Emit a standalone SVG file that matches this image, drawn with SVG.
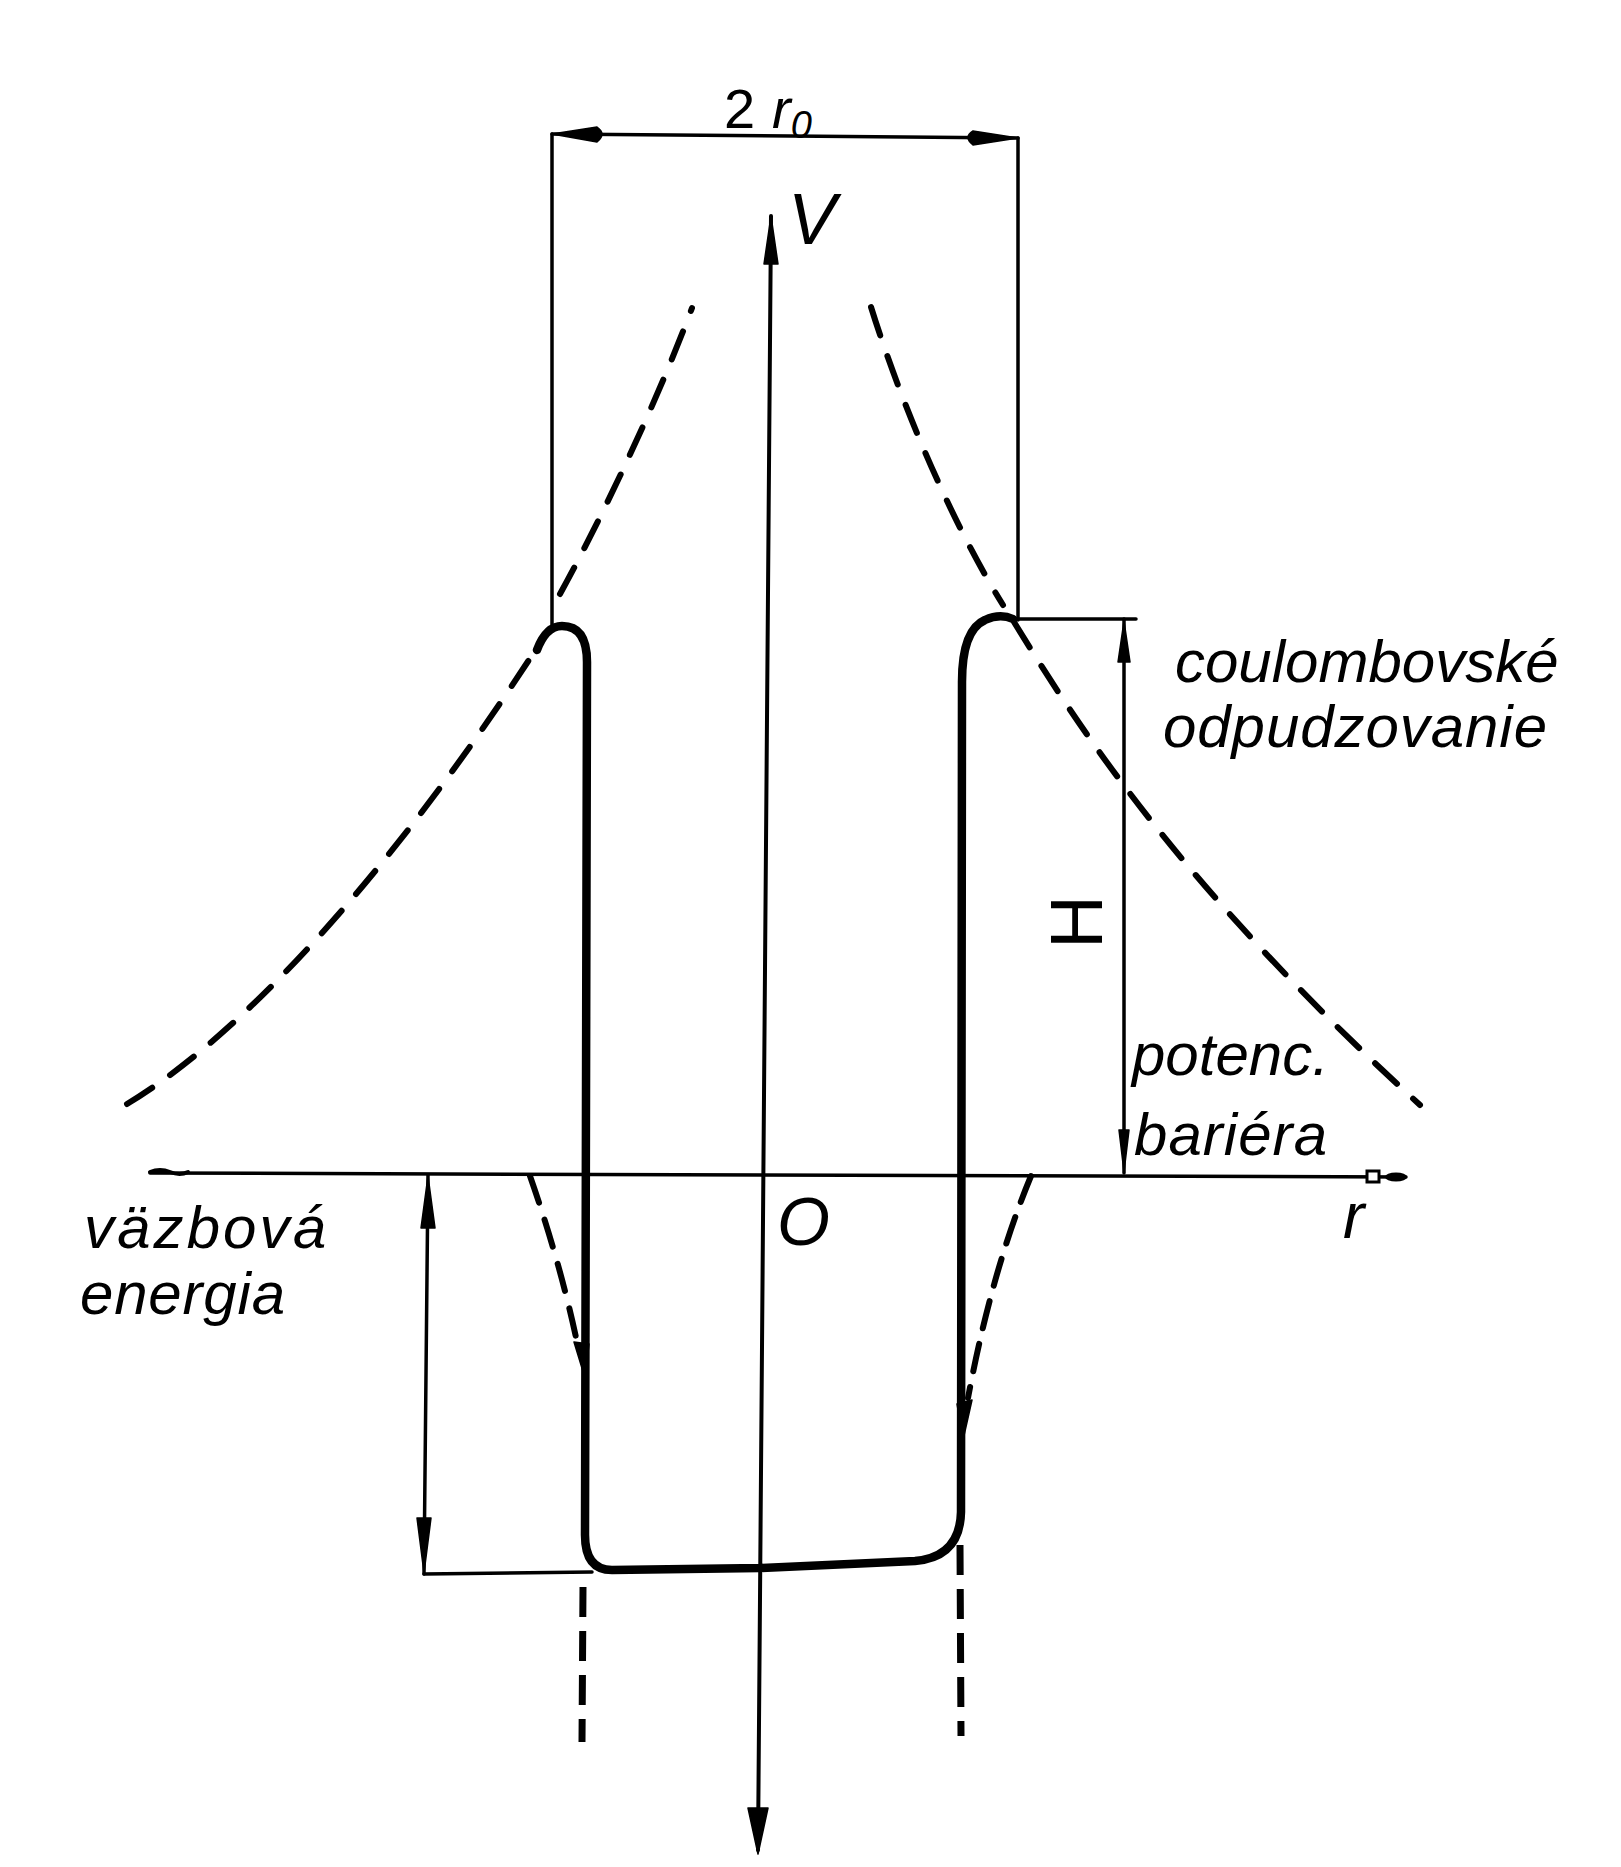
<svg xmlns="http://www.w3.org/2000/svg" width="1621" height="1867" viewBox="0 0 1621 1867">
<style>
.thin{fill:none;stroke:#000;stroke-width:3.5;stroke-linecap:round}
.thick{fill:none;stroke:#000;stroke-width:8.5;stroke-linecap:round;stroke-linejoin:round}
.dash{fill:none;stroke:#000;stroke-width:6;stroke-linecap:round;stroke-dasharray:30 22}
.dashv{fill:none;stroke:#000;stroke-width:7;stroke-linecap:butt;stroke-dasharray:30 14}
.head{fill:#000;stroke:#000;stroke-width:1.5;stroke-linejoin:round}
.lbl{font-family:"Liberation Sans",Arial,sans-serif;font-style:italic;font-size:60px;fill:#000}
.sym{font-family:"Liberation Sans",Arial,sans-serif;fill:#000}
</style>
<rect width="1621" height="1867" fill="#fff"/>

<g id="connectors">
  <!-- dimension 2r0 -->
  <line class="thin" x1="552" y1="134" x2="1018" y2="138"/>
  <line class="thin" x1="552" y1="134" x2="552" y2="628"/>
  <line class="thin" x1="1018" y1="138" x2="1018" y2="620"/>
  <path class="head" d="M552,134 L597,127 Q607,134 597,142 Z"/>
  <path class="head" d="M1018,138 L973,131 Q963,137 973,145 Z"/>
  <!-- V axis -->
  <line class="thin" x1="771" y1="216" x2="758" y2="1850" style="stroke-width:4"/>
  <path class="head" d="M771,216 L778,264 L764,264 Z"/>
  <path class="head" d="M758,1854 L748,1808 L768,1808 Z"/>
  <!-- r axis -->
  <line class="thin" x1="150" y1="1173" x2="1406" y2="1177"/>
  <path class="thin" d="M150,1172 Q160,1168 170,1172 T188,1172" style="stroke-width:4"/>
  <rect x="1367" y="1171" width="12" height="11" fill="#fff" stroke="#000" stroke-width="3"/>
  <ellipse cx="1396" cy="1177" rx="11" ry="4.5" fill="#000"/>
  <!-- H dimension -->
  <line class="thin" x1="1014" y1="619" x2="1136" y2="619"/>
  <line class="thin" x1="1124" y1="619" x2="1124" y2="1173"/>
  <path class="head" d="M1124,621 L1130,662 L1118,662 Z"/>
  <path class="head" d="M1124,1172 L1119,1130 L1129,1130 Z"/>
  <!-- binding energy dimension -->
  <line class="thin" x1="428" y1="1175" x2="424" y2="1574"/>
  <line class="thin" x1="424" y1="1574" x2="592" y2="1572"/>
  <path class="head" d="M428,1176 L435,1228 L421,1228 Z"/>
  <path class="head" d="M424,1573 L417,1518 L431,1518 Z"/>
</g>

<g id="potential-well">
  <path class="thick" d="M537,650 Q546,626 562,626 Q587,626 587,662 L585,1535 Q585,1570 612,1570 L760,1568 L915,1561 Q960,1557 961,1512 L962,682 Q962,630 985,620 Q1000,613 1013,619"/>
</g>

<g id="coulomb-curves">
  <path class="dash" d="M127,1104 C250,1030 400,860 538,646"/>
  <path class="dash" d="M560,594 C590,540 650,420 692,308"/>
  <path class="dash" d="M871,307 C900,400 950,520 1003,605"/>
  <path class="dash" d="M1014,622 C1072,716 1173,880 1420,1105"/>
</g>

<g id="nuclear-tails">
  <path class="dash" d="M530,1176 Q560,1262 577,1342" style="stroke-dasharray:28 18"/>
  <path class="head" d="M574,1342 L589,1344 L585,1378 Z"/>
  <path class="dash" d="M1031,1176 Q992,1270 968,1398" style="stroke-dasharray:28 16"/>
  <path class="head" d="M957,1404 L972,1400 L963,1440 Z"/>
  <line class="dashv" x1="583" y1="1587" x2="582" y2="1742"/>
  <line class="dashv" x1="960" y1="1545" x2="961" y2="1736"/>
</g>

<g id="labels">
  <text class="sym" x="724" y="128" font-size="56">2</text>
  <text class="sym" x="772" y="128" font-size="56" font-style="italic">r<tspan font-size="38" dy="10">0</tspan></text>
  <text class="sym" x="788" y="244" font-size="72" font-style="italic">V</text>
  <text class="sym" x="1076" y="948" font-size="74" text-anchor="middle" transform="rotate(-90 1076 922)">H</text>
  <text class="sym" x="777" y="1245" font-size="68" font-style="italic">O</text>
  <text class="sym" x="1343" y="1238" font-size="64" font-style="italic">r</text>
  <text class="lbl" x="1175" y="682">coulombovské</text>
  <text class="lbl" x="1163" y="747" textLength="384">odpudzovanie</text>
  <text class="lbl" x="1132" y="1075">potenc.</text>
  <text class="lbl" x="1134" y="1155" textLength="193">bariéra</text>
  <text class="lbl" x="84" y="1248" textLength="242">väzbová</text>
  <text class="lbl" x="80" y="1314" textLength="205">energia</text>
</g>
</svg>
